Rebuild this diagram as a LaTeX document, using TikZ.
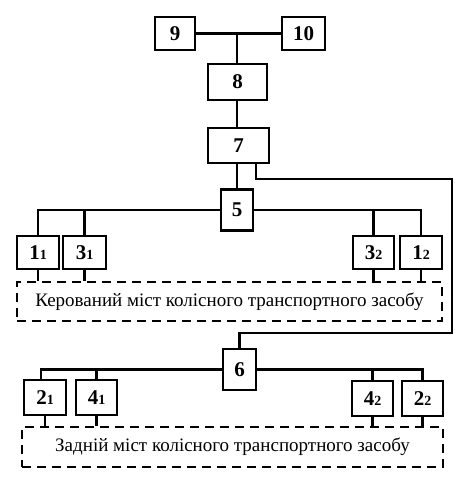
\documentclass[tikz,border=0pt]{standalone}
\usepackage{fontspec}
\setmainfont{Liberation Serif}
\usetikzlibrary{calc}
\newcommand{\sbn}[2]{#1{\fontsize{14}{14}\selectfont #2}}
\begin{document}
\begin{tikzpicture}[x=1pt,y=-1pt,
  blk/.style={draw,line width=2.6pt,inner sep=0pt,font=\fontsize{21}{21}\selectfont\bfseries},
  grp/.style={draw,line width=2.6pt,dash pattern=on 9pt off 6pt,inner sep=0pt,font=\fontsize{19}{19}\selectfont},
  wire/.style={line width=2.6pt}]
\useasboundingbox (0,0) rectangle (467,482);
\node[blk,minimum width=40pt,minimum height=33pt] (n9) at (175,33.5) {9};
\node[blk,minimum width=43pt,minimum height=33pt] (n10) at (303.5,33.5) {10};
\node[blk,minimum width=59pt,minimum height=36pt] (n8) at (237.5,82) {8};
\node[blk,minimum width=61pt,minimum height=35pt] (n7) at (238.5,145.5) {7};
\node[blk,minimum width=32pt,minimum height=41pt] (n5) at (237,210) {5};
\node[blk,minimum width=42pt,minimum height=33pt] (b11) at (38,252.5) {\sbn{1}{1}};
\node[blk,minimum width=43pt,minimum height=33pt] (b31) at (84.5,252.5) {\sbn{3}{1}};
\node[blk,minimum width=41pt,minimum height=33pt] (b32) at (373.5,252.5) {\sbn{3}{2}};
\node[blk,minimum width=42pt,minimum height=33pt] (b12) at (421,252.5) {\sbn{1}{2}};
\node[grp,minimum width=425pt,minimum height=39pt] (d1) at (229.5,301.5) {Керований міст колісного транспортного засобу};
\node[blk,minimum width=33pt,minimum height=41pt] (n6) at (239.5,369.5) {6};
\node[blk,minimum width=42pt,minimum height=35pt] (b21) at (45,397.5) {\sbn{2}{1}};
\node[blk,minimum width=41pt,minimum height=35pt] (b41) at (96.5,397.5) {\sbn{4}{1}};
\node[blk,minimum width=41pt,minimum height=35pt] (b42) at (372.5,398.5) {\sbn{4}{2}};
\node[blk,minimum width=41pt,minimum height=35pt] (b22) at (422.5,398.5) {\sbn{2}{2}};
\node[grp,minimum width=421pt,minimum height=40pt] (d2) at (232.5,447) {Задній міст колісного транспортного засобу};
\coordinate (j1) at (237,33.5);
\coordinate (r0) at (256,163);
\coordinate (r1) at (452,179);
\coordinate (r2) at (452,333);
% top
\draw[wire] (n9.east) -- (n10.west);
\draw[wire] (j1) -- (j1 |- n8.north);
\draw[wire] (n8.south -| j1) -- (n7.north -| j1);
\draw[wire] (n7.south -| j1) -- (n5.north -| j1);
\draw[wire] (r0) |- (r1) -- (r2) -| (n6.north);
% front bus
\draw[wire] (n5.west) -| (b11.north);
\draw[wire] (n5.west -| b31.north) -- (b31.north);
\draw[wire] (n5.east) -| (b12.north);
\draw[wire] (n5.east -| b32.north) -- (b32.north);
\foreach \b in {b11,b31,b32,b12} \draw[wire] (\b.south) -- (\b.south |- d1.north);
% rear bus
\coordinate (b21t) at ($(b21.north)+(-4,0)$);
\draw[wire] (n6.west) -| (b21t);
\draw[wire] (n6.west -| b41.north) -- (b41.north);
\draw[wire] (n6.east) -| (b22.north);
\draw[wire] (n6.east -| b42.north) -- (b42.north);
\foreach \b in {b21,b41,b42,b22} \draw[wire] (\b.south) -- (\b.south |- d2.north);
\end{tikzpicture}
\end{document}
